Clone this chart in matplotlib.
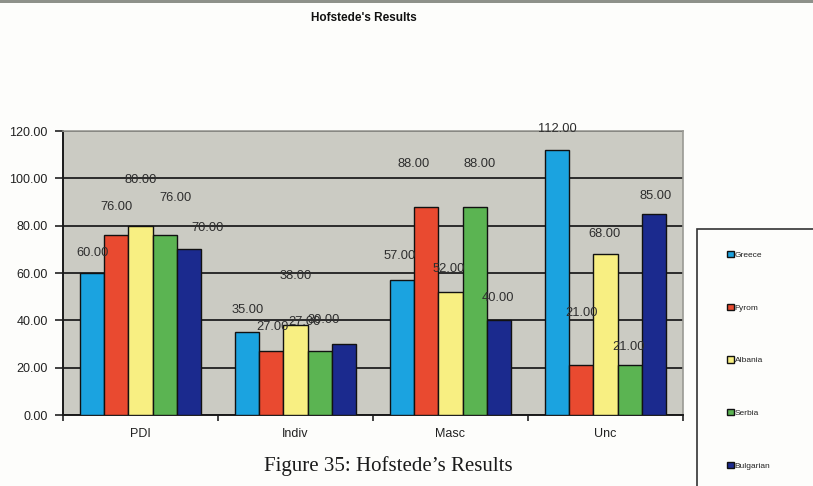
import numpy as np
import matplotlib
matplotlib.use("Agg")
import matplotlib.pyplot as plt
from matplotlib.patches import Rectangle

plt.rcParams["font.family"] = ["Liberation Sans", "DejaVu Sans"]

# Hofstede dimension scores per country
dimensions = ["PDI", "Indiv", "Masc", "Unc"]
countries = ["Greece", "Fyrom", "Albania", "Serbia", "Bulgarian"]
greece = [60, 35, 57, 112]
fyrom = [76, 27, 88, 21]
albania = [80, 38, 52, 68]
serbia = [76, 27, 88, 21]
bulgarian = [70, 30, 40, 85]
series = [greece, fyrom, albania, serbia, bulgarian]
colors = ["#1ba3e0", "#e94a30", "#f8ef82", "#5bb452", "#1b2a8e"]

# pixel offsets of the value labels (dx, dy) from each bar top
label_offsets = [
    [(0, 20), (0, 22), (-3, 24), (0, 21)],
    [(0, 28), (1, 24), (-13, 43), (0, 52)],
    [(0, 46), (0, 49), (-2, 23), (-1, 20)],
    [(11, 37), (-15, 29), (5, 43), (-1, 18)],
    [(19, 21), (-20, 24), (-1, 22), (2, 18)],
]

W, H = 813, 486
fig = plt.figure(figsize=(W / 100, H / 100), dpi=100, facecolor="#fdfdfb")

# thin dark strip along the top edge of the page
fig.patches.append(Rectangle((0, 1 - 3 / H), 1, 3 / H, transform=fig.transFigure,
                             facecolor="#8e918a", edgecolor="none"))

ax = fig.add_axes([63 / W, (H - 415) / H, 620 / W, 284 / H])
ax.set_facecolor("#cbcbc3")

x = np.arange(len(dimensions))
bw = 0.155
bars = []
for i, (vals, c) in enumerate(zip(series, colors)):
    pos = x + (i - 2) * bw
    b = ax.bar(pos, vals, bw, color=c, edgecolor="#111111", linewidth=1.0,
               zorder=3, label=countries[i])
    bars.append(b)
    for j, v in enumerate(vals):
        dx, dy = label_offsets[i][j]
        ax.annotate(f"{v:.2f}", (pos[j], v), xytext=(dx, dy),
                    textcoords="offset pixels", ha="center", va="center",
                    fontsize=9.3, color="#2e2e2e", zorder=5)

ax.set_xlim(-0.5, 3.5)
ax.set_ylim(0, 120)
ax.set_yticks(np.arange(0, 121, 20))
ax.set_yticklabels([f"{t:.2f}" for t in np.arange(0, 121, 20)])
ax.set_xticks(x)
ax.set_xticklabels(dimensions)
ax.set_xticks(np.arange(-0.5, 4, 1), minor=True)
ax.tick_params(axis="x", which="major", length=0, pad=9, labelsize=9, colors="#222222")
ax.tick_params(axis="x", which="minor", length=4, width=1.2, direction="out", color="#222222")
ax.tick_params(axis="y", length=6, width=1.2, direction="out", labelsize=9,
               colors="#222222", pad=5)

ax.yaxis.grid(True, color="#2b2b2b", linewidth=1.4, zorder=1)
ax.set_axisbelow(True)
for s in ["left", "bottom"]:
    ax.spines[s].set_color("#1a1a1a")
    ax.spines[s].set_linewidth(1.4)
for s in ["top", "right"]:
    ax.spines[s].set_color("#9a9a94")
    ax.spines[s].set_linewidth(1.2)

fig.text(364 / W, 1 - 18 / H, "Hofstede's Results", ha="center", va="center",
         fontsize=8.5, fontweight="bold", color="#111111")

# legend box, running past the page edge
fig.patches.append(Rectangle((697 / W, -0.05), 0.2, (H - 229) / H + 0.05,
                             transform=fig.transFigure, facecolor="#fdfdfb",
                             edgecolor="#333333", linewidth=1.2))
leg = fig.legend(handles=[b[0] for b in bars], labels=countries,
                 loc="upper left", bbox_to_anchor=(727 / W, 1 - 251 / H),
                 frameon=False, fontsize=6, handlelength=0.8, handleheight=0.8,
                 handletextpad=0.1, labelspacing=5.35, borderpad=0, borderaxespad=0)
for t in leg.get_texts():
    t.set_color("#222222")

fig.text(388 / W, 1 - 466 / H, "Figure 35: Hofstede\u2019s Results", ha="center",
         va="center", fontsize=15, family=["Liberation Serif", "DejaVu Serif"],
         color="#1a1a1a")

fig.savefig("out.png", dpi=100, facecolor=fig.get_facecolor())
